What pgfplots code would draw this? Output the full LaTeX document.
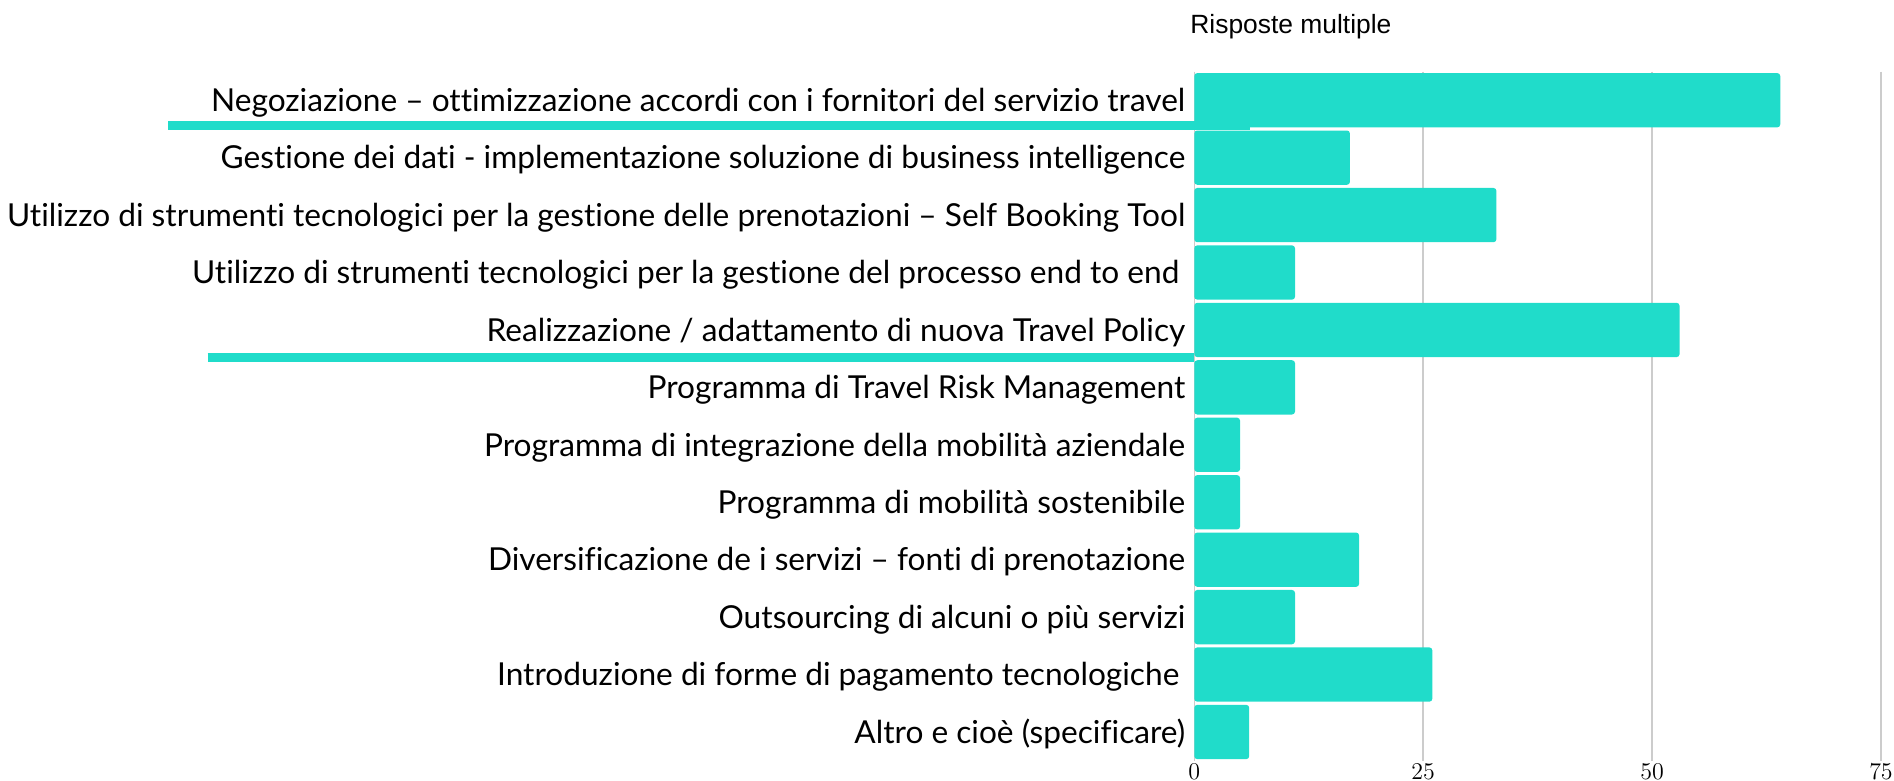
\documentclass[border=0pt]{standalone}
\usepackage{fontspec}
\setmainfont{Lato}[Ligatures=NoCommon]
\newfontfamily\titlefont{Liberation Sans}
\usepackage{pgfplots}
\pgfplotsset{compat=1.18}
\definecolor{barc}{HTML}{20DCCA}
\definecolor{gridc}{HTML}{CCCCCC}
\begin{document}
\begin{tikzpicture}
\useasboundingbox (-597.15pt,-10.15pt) rectangle (349.85pt,380.35pt);
\begin{axis}[
  at={(0,0)}, anchor=south west,
  scale only axis,
  width=343.35pt, height=344.6pt,
  xmin=0, xmax=75,
  ymin=-0.5, ymax=11.5,
  y dir=reverse,
  clip=false,
  axis line style={draw=none},
  major tick length=0pt,
  xtick={0,25,50,75},
  xmajorgrids,
  grid style={color=gridc, line width=0.8pt},
  xticklabel style={font=\fontsize{13pt}{15pt}\selectfont, anchor=base, yshift=-9.2pt, inner sep=0pt},
  ytick={0,...,11},
  yticklabels={
    {Negoziazione – ottimizzazione accordi con i fornitori del servizio travel},
    {Gestione dei dati - implementazione soluzione di business intelligence},
    {Utilizzo di strumenti tecnologici per la gestione delle prenotazioni – Self Booking Tool},
    {Utilizzo di strumenti tecnologici per la gestione del processo end to end\hspace*{3pt}},
    {Realizzazione / adattamento di nuova Travel Policy},
    {Programma di Travel Risk Management},
    {Programma di integrazione della mobilità aziendale},
    {Programma di mobilità sostenibile},
    {Diversificazione de i servizi – fonti di prenotazione},
    {Outsourcing di alcuni o più servizi},
    {Introduzione di forme di pagamento tecnologiche\hspace*{3pt}},
    {Altro e cioè (specificare)}
  },
  yticklabel style={font=\fontsize{15.82pt}{18pt}\selectfont, anchor=base east, inner sep=0pt, xshift=-4.3pt, yshift=-5.6pt},
]
\addplot[draw=barc, line width=4.5pt] coordinates {(-112.06,0.44) (6.08,0.44)};
\addplot[draw=barc, line width=4.5pt] coordinates {(-107.75,4.485) (0,4.485)};
\addplot[xbar, bar width=27.15pt, bar shift=0pt, fill=barc, draw=none, rounded corners=1.5pt] coordinates {
  (64,0) (17,1) (33,2) (11,3) (53,4) (11,5) (5,6) (5,7) (18,8) (11,9) (26,10) (6,11)
};
\end{axis}
\node[anchor=base west, inner sep=0pt, font=\titlefont\fontsize{13.2pt}{15pt}\selectfont] at (-2.15pt,363.7pt) {Risposte multiple};
\end{tikzpicture}
\end{document}
